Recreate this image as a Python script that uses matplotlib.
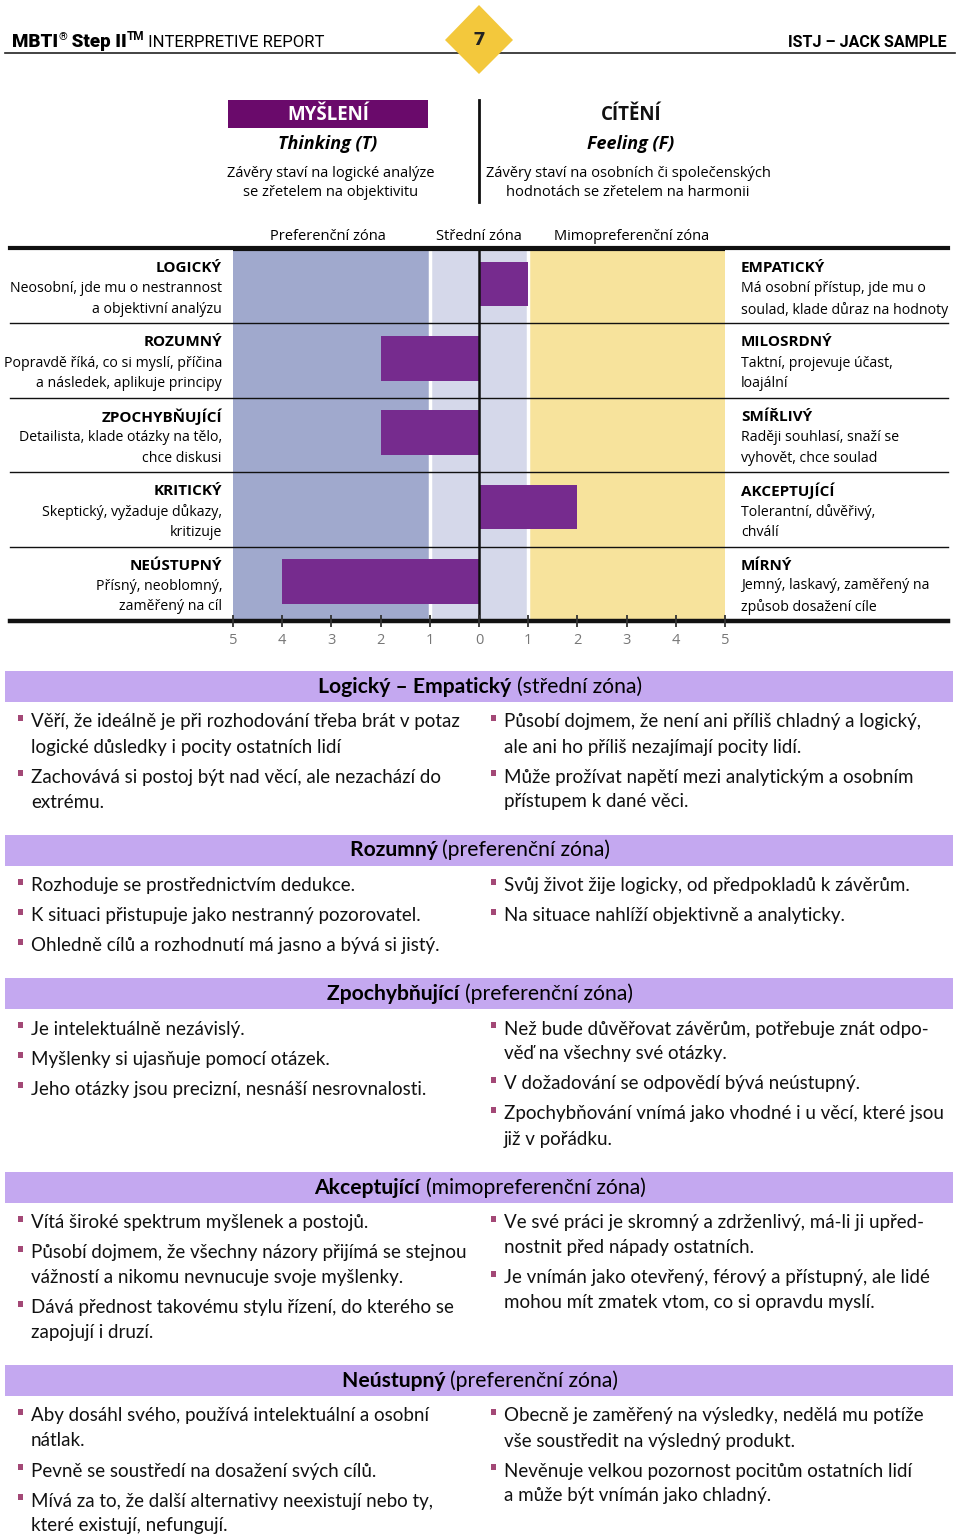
import matplotlib
matplotlib.use("Agg")
import matplotlib.pyplot as plt
from matplotlib.patches import Rectangle, Polygon

# ---- data ----
facets_left = ["LOGICKÝ", "ROZUMNÝ", "ZPOCHYBŇUJÍCÍ", "KRITICKÝ", "NEÚSTUPNÝ"]
facets_left_desc = [
    "Neosobní, jde mu o nestrannost\na objektivní analýzu",
    "Popravdě říká, co si myslí, příčina\na následek, aplikuje principy",
    "Detailista, klade otázky na tělo,\nchce diskusi",
    "Skeptický, vyžaduje důkazy,\nkritizuje",
    "Přísný, neoblomný,\nzaměřený na cíl",
]
facets_right = ["EMPATICKÝ", "MILOSRDNÝ", "SMÍŘLIVÝ", "AKCEPTUJÍCÍ", "MÍRNÝ"]
facets_right_desc = [
    "Má osobní přístup, jde mu o\nsoulad, klade důraz na hodnoty",
    "Taktní, projevuje účast,\nloajální",
    "Raději souhlasí, snaží se\nvyhovět, chce soulad",
    "Tolerantní, důvěřivý,\nchválí",
    "Jemný, laskavý, zaměřený na\nzpůsob dosažení cíle",
]
# negative = Thinking side, positive = Feeling side
scores = [1, -2, -2, 2, -4]
tick_values = [-5, -4, -3, -2, -1, 0, 1, 2, 3, 4, 5]
zone_labels = ["Preferenční zóna", "Střední zóna", "Mimopreferenční zóna"]

section_bold = ["Logický – Empatický", "Rozumný", "Zpochybňující", "Akceptující", "Neústupný"]
section_zone = ["(střední zóna)", "(preferenční zóna)", "(preferenční zóna)",
                "(mimopreferenční zóna)", "(preferenční zóna)"]
bullets_left = [
    ["Věří, že ideálně je při rozhodování třeba brát v potaz\nlogické důsledky i pocity ostatních lidí",
     "Zachovává si postoj být nad věcí, ale nezachází do\nextrému."],
    ["Rozhoduje se prostřednictvím dedukce.",
     "K situaci přistupuje jako nestranný pozorovatel.",
     "Ohledně cílů a rozhodnutí má jasno a bývá si jistý."],
    ["Je intelektuálně nezávislý.",
     "Myšlenky si ujasňuje pomocí otázek.",
     "Jeho otázky jsou precizní, nesnáší nesrovnalosti."],
    ["Vítá široké spektrum myšlenek a postojů.",
     "Působí dojmem, že všechny názory přijímá se stejnou\nvážností a nikomu nevnucuje svoje myšlenky.",
     "Dává přednost takovému stylu řízení, do kterého se\nzapojují i druzí."],
    ["Aby dosáhl svého, používá intelektuální a osobní\nnátlak.",
     "Pevně se soustředí na dosažení svých cílů.",
     "Mívá za to, že další alternativy neexistují nebo ty,\nkteré existují, nefungují."],
]
bullets_right = [
    ["Působí dojmem, že není ani příliš chladný a logický,\nale ani ho příliš nezajímají pocity lidí.",
     "Může prožívat napětí mezi analytickým a osobním\npřístupem k dané věci."],
    ["Svůj život žije logicky, od předpokladů k závěrům.",
     "Na situace nahlíží objektivně a analyticky."],
    ["Než bude důvěřovat závěrům, potřebuje znát odpo-\nvěď na všechny své otázky.",
     "V dožadování se odpovědí bývá neústupný.",
     "Zpochybňování vnímá jako vhodné i u věcí, které jsou\njiž v pořádku."],
    ["Ve své práci je skromný a zdrženlivý, má-li ji upřed-\nnostnit před nápady ostatních.",
     "Je vnímán jako otevřený, férový a přístupný, ale lidé\nmohou mít zmatek vtom, co si opravdu myslí."],
    ["Obecně je zaměřený na výsledky, nedělá mu potíže\nvše soustředit na výsledný produkt.",
     "Nevěnuje velkou pozornost pocitům ostatních lidí\na může být vnímán jako chladný."],
]

# ---- colours / fonts ----
PURPLE_BAR = "#762b8e"
BLUE_ZONE = "#a0a9cd"
MID_ZONE = "#d5d8ea"
YELLOW_ZONE = "#f7e39c"
BAND = "#c4a8f0"
BULLET = "#a34876"
SANS = ["Open Sans", "DejaVu Sans"]
BODY = ["Lato", "DejaVu Sans"]
HEAD = ["Roboto", "DejaVu Sans"]

W, H = 960, 1535
fig = plt.figure(figsize=(W / 100, H / 100), dpi=100)
page = fig.add_axes([0, 0, 1, 1])
page.set_xlim(0, W)
page.set_ylim(H, 0)
page.axis("off")
page.set_zorder(3)
page.patch.set_visible(False)
renderer = fig.canvas.get_renderer()


def text_width(t):
    return t.get_window_extent(renderer=renderer).width


def seq_text(x, y, parts, ha="left"):
    # draw several text runs one after the other on the same baseline
    objs = []
    for s, kw in parts:
        kw = dict(kw)
        dy = kw.pop("dy", 0)
        objs.append(page.text(0, y + dy, s, va="baseline", **kw))
    widths = [text_width(o) for o in objs]
    total = sum(widths)
    start = x - total / 2 if ha == "center" else (x - total if ha == "right" else x)
    for o, w in zip(objs, widths):
        o.set_x(start)
        start += w


# ---- page header ----
seq_text(12, 47, [
    ("MBTI", dict(family=HEAD, weight="heavy", size=13.5)),
    ("®", dict(family=HEAD, size=8, dy=-7)),
    (" Step II", dict(family=HEAD, weight="heavy", size=13.5)),
    ("TM", dict(family=HEAD, weight="bold", size=8.5, dy=-7)),
    (" INTERPRETIVE REPORT", dict(family=HEAD, size=12)),
])
page.text(947, 47, "ISTJ – JACK SAMPLE", family=HEAD, weight="bold", size=11.5,
          ha="right", va="baseline")
page.plot([5, 955], [53, 53], color="#222222", lw=1.2)
page.add_patch(Polygon([[479, 5], [513, 40], [479, 74], [445, 40]], closed=True,
                       facecolor="#f3c83c", edgecolor="none", zorder=4))
page.text(479, 40, "7", family=HEAD, weight="heavy", size=14, ha="center", va="center",
          color="#222222", zorder=5)

# ---- Thinking / Feeling heading ----
page.add_patch(Rectangle((228, 100), 200, 28, facecolor="#6a0a6b", edgecolor="none"))
page.text(328, 115, "MYŠLENÍ", family=SANS, size=13.5, weight="bold", color="white",
          ha="center", va="center")
page.text(631, 115, "CÍTĚNÍ", family=SANS, size=13.5, weight="bold", color="#111111",
          ha="center", va="center")
page.text(328, 144, "Thinking (T)", family=SANS, size=13, weight="bold", style="italic",
          ha="center", va="center")
page.text(631, 144, "Feeling (F)", family=SANS, size=13, weight="bold", style="italic",
          ha="center", va="center")
page.text(331, 183, "Závěry staví na logické analýze\nse zřetelem na objektivitu", family=SANS,
          size=10.5, ha="center", va="center", linespacing=1.45)
page.text(628, 183, "Závěry staví na osobních či společenských\nhodnotách se zřetelem na harmonii",
          family=SANS, size=10.5, ha="center", va="center", linespacing=1.45)
page.plot([479, 479], [100, 202], color="#111111", lw=2)
for lab, xc in zip(zone_labels, [328, 479, 632]):
    page.text(xc, 236, lab, family=SANS, size=10.5, ha="center", va="center")

# ---- facet chart ----
top, bottom = 249, 621
n = len(scores)
ax = fig.add_axes([233 / W, 1 - bottom / H, 492 / W, (bottom - top) / H])
ax.set_zorder(4)
ax.set_xlim(-5, 5)
ax.set_ylim(n, 0)
ax.axvspan(-5, -1, color=BLUE_ZONE, lw=0)
ax.axvspan(-1, 1, color=MID_ZONE, lw=0)
ax.axvspan(1, 5, color=YELLOW_ZONE, lw=0)
ax.axvline(-1, color="white", lw=2.5)
ax.axvline(1, color="white", lw=2.5)
ax.barh([i + 0.47 for i in range(n)], scores, height=0.6, color=PURPLE_BAR, zorder=3)
ax.axvline(0, color="#111111", lw=1.8, zorder=4)
for i in range(1, n):
    ax.axhline(i, color="#111111", lw=1, zorder=5)
ax.axhline(0, color="#111111", lw=3, zorder=5)
ax.axhline(n, color="#111111", lw=3.2, zorder=5)
# tick marks straddling the bottom rule
ax.vlines(tick_values, n - 0.08, n + 0.085, color="#333333", lw=1.3, zorder=6, clip_on=False)
for s in ax.spines.values():
    s.set_visible(False)
ax.set_yticks([])
ax.set_xticks(tick_values)
ax.set_xticklabels([str(abs(v)) for v in tick_values], family=SANS, fontsize=10.5, color="#777777")
ax.tick_params(axis="x", length=0, pad=8.5)

# separators continue under the side labels
row_h = (bottom - top) / n
for i in range(1, n):
    page.plot([10, 948], [top + i * row_h, top + i * row_h], color="#111111", lw=1)
page.plot([10, 948], [top - 1, top - 1], color="#111111", lw=3)
page.plot([10, 948], [bottom, bottom], color="#111111", lw=3.2)

for i in range(n):
    y0 = top + i * row_h
    page.text(222, y0 + 19, facets_left[i], family=SANS, size=11, weight="bold",
              ha="right", va="center")
    page.text(222, y0 + 50, facets_left_desc[i], family=SANS, size=10.2,
              ha="right", va="center", linespacing=1.5)
    page.text(741, y0 + 19, facets_right[i], family=SANS, size=11, weight="bold",
              ha="left", va="center")
    page.text(741, y0 + 50, facets_right_desc[i], family=SANS, size=10.2,
              ha="left", va="center", linespacing=1.5)

# ---- text sections ----
LINE = 25
GAP = 30


def draw_bullets(x, y, items):
    for item in items:
        page.add_patch(Rectangle((x - 13, y - 5), 5, 6, facecolor=BULLET, edgecolor="none"))
        for k, line in enumerate(item.split("\n")):
            page.text(x, y + 2 + k * LINE, line, family=BODY, size=13.5, ha="left", va="center",
                      color="#111111")
        y += (len(item.split("\n")) - 1) * LINE + GAP
    return y - GAP


band_top = 671
for j in range(len(section_bold)):
    page.add_patch(Rectangle((5, band_top), 948, 31, facecolor=BAND, edgecolor="none"))
    seq_text(480, band_top + 22, [
        (section_bold[j] + " ", dict(family=BODY, size=15.2, weight="bold")),
        (section_zone[j], dict(family=BODY, size=15.2)),
    ], ha="center")
    y_first = band_top + 49
    end_l = draw_bullets(31, y_first, bullets_left[j])
    end_r = draw_bullets(504, y_first, bullets_right[j])
    band_top = max(end_l, end_r) + 34.5

fig.savefig("out.png", dpi=100)
